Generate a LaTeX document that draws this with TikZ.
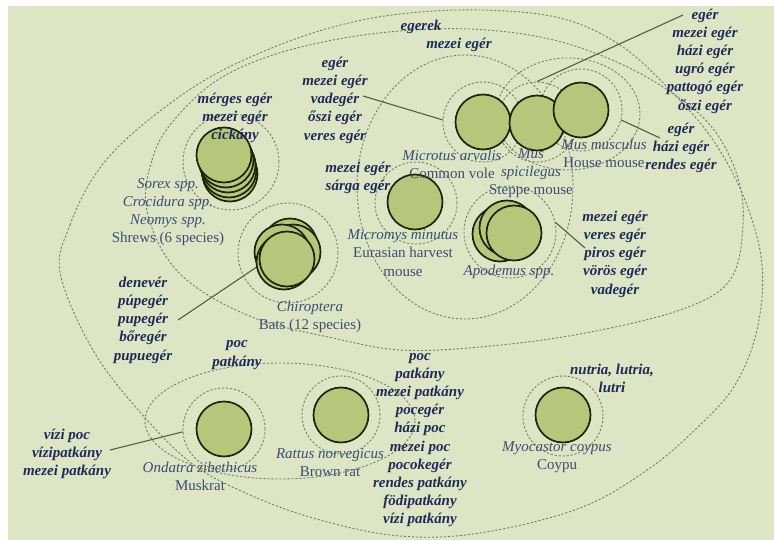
\documentclass[tikz,border=0pt]{standalone}
\usepackage{fontspec}
\setmainfont{Liberation Serif}
\definecolor{bgc}{RGB}{221,230,196}
\definecolor{leaf}{RGB}{180,199,122}
\definecolor{ringc}{RGB}{28,36,12}
\definecolor{dashc}{RGB}{118,126,108}
\definecolor{navy}{RGB}{32,42,88}
\definecolor{slate}{RGB}{62,76,116}
\definecolor{linec}{RGB}{85,92,65}
\begin{document}
\begin{tikzpicture}[x=1pt,y=-1pt,
  hu/.style={font=\fontsize{15}{18.2}\selectfont\bfseries\itshape, text=navy, align=center, inner sep=0pt},
  en/.style={font=\fontsize{15}{18.2}\selectfont, text=slate, align=center, inner sep=0pt},
  sp/.style={circle, draw=ringc, line width=1.7pt, fill=leaf, minimum size=55pt, inner sep=0pt},
  dsh/.style={draw=dashc, line width=0.9pt, dash pattern=on 2.2pt off 1.8pt},
  dc/.style={circle, dsh, inner sep=0pt},
  conn/.style={draw=linec, line width=1.1pt}]
\useasboundingbox (0,0) rectangle (774,540);
\fill[white] (0,0) rectangle (774,540);
\fill[bgc] (8,6) rectangle (774,540);

% large groupings
\draw[dsh] plot[smooth cycle, tension=0.6] coordinates {(60,272) (70,225) (95,175) (133,133) (200,83) (267,50) (333,27) (400,14) (480,10) (560,18) (620,45) (670,90) (713,140) (745,200) (762,265) (757,330) (735,385) (700,425) (650,468) (580,508) (480,533) (400,536) (320,520) (250,495) (190,462) (133,404) (90,345)};
\draw[dsh] plot[smooth cycle, tension=0.6] coordinates {(146,205) (152,160) (170,125) (213,83) (267,57) (333,40) (400,31) (470,29) (540,37) (600,55) (660,85) (710,125) (737,175) (743,225) (730,280) (680,310) (580,334) (480,347) (400,350) (333,338) (260,320) (200,290) (165,255)};
\draw[dsh] (465,187) ellipse [x radius=108, y radius=132];
\draw[dsh] (568,114) ellipse [x radius=72, y radius=56];
\draw[dsh] (280,421) ellipse [x radius=135, y radius=58];

% dashed rings
\node[dc, minimum size=96pt] (shrewd) at (231,162) {};
\node[dc, minimum size=100pt] (batd) at (288,253) {};
\node[dc, minimum size=80pt] (micd) at (483,122) {};
\node[dc, minimum size=80pt] (spicd) at (537,122) {};
\node[dc, minimum size=82pt] (muscd) at (581,110) {};
\node[dc, minimum size=82pt] (micrd) at (416,203) {};
\node[dc, minimum size=92pt] (apod) at (510,232) {};
\node[dc, minimum size=82pt] (ondd) at (224,429) {};
\node[dc, minimum size=78pt] (ratd) at (341,415) {};
\node[dc, minimum size=80pt] (myod) at (563,416) {};

% species circles
\node[sp] (sh5) at (230,174) {};
\node[sp] (sh4) at (229,170) {};
\node[sp] (sh3) at (228,165) {};
\node[sp] (sh2) at (226,160) {};
\node[sp] (sh1) at (224,155) {};
\node[sp] (bt1) at (290,246) {};
\node[sp] (bt2) at (293,252) {};
\node[sp] (bt3) at (282,252) {};
\node[sp] (bt4) at (284,262) {};
\node[sp] (bt5) at (287,259) {};
\node[sp] (mic) at (483,122) {};
\node[sp] (spic) at (537,123) {};
\node[sp] (musc) at (581,110) {};
\node[sp] (micr) at (415,202) {};
\node[sp] (ap1) at (500,234) {};
\node[sp] (ap2) at (507,228) {};
\node[sp] (ap3) at (514,233) {};
\node[sp] (ond) at (224,429) {};
\node[sp] (rat) at (341,415) {};
\node[sp] (myo) at (563,415) {};

% connectors
\coordinate (c1) at (363,96);
\coordinate (c2) at (683,15);
\coordinate (c3) at (660,138);
\coordinate (c4) at (585,248);
\coordinate (c5) at (178,320);
\coordinate (c6) at (110,450);
\draw[conn] (c1) -- (micd.177);
\draw[conn] (c2) -- (spicd.north);
\draw[conn] (c3) -- (muscd.-14);
\draw[conn] (c4) -- (apod.12);
\draw[conn] (c5) -- (bt4.191);
\draw[conn] (c6) -- (ondd.184);

% texts
\node[hu] (t1) at (421,27) {egerek};
\node[hu] (t2) at (459,45) {mezei egér};
\node[hu] (t3) at (335,100) {egér\\mezei egér\\vadegér\\őszi egér\\veres egér};
\node[hu] (t4) at (235,118) {mérges egér\\mezei egér\\cickány};
\node[en] (t5) at (168,212) {\textit{Sorex spp.}\\\textit{Crocidura spp.}\\\textit{Neomys spp.}\\Shrews (6 species)};
\node[hu] (t6) at (358,178) {mezei egér\\sárga egér};
\node[en] (t7) at (452,164) {\textit{Microtus arvalis}\\Common vole};
\node[en] (t8) at (531,173) {\textit{Mus}\\\textit{spicilegus}\\Steppe mouse};
\node[en] (t9) at (604,153) {\textit{Mus musculus}\\House mouse};
\node[hu] (t10) at (705,61) {egér\\mezei egér\\házi egér\\ugró egér\\pattogó egér\\őszi egér};
\node[hu] (t11) at (681,148) {egér\\házi egér\\rendes egér};
\node[en] (t12) at (403,253) {\textit{Micromys minutus}\\Eurasian harvest\\mouse};
\node[en] (t13) at (509,272) {\textit{Apodemus spp.}};
\node[hu] (t14) at (615,254) {mezei egér\\veres egér\\piros egér\\vörös egér\\vadegér};
\node[en] (t15) at (310,317) {\textit{Chiroptera}\\Bats (12 species)};
\node[hu] (t16) at (143,320) {denevér\\púpegér\\pupegér\\bőregér\\pupuegér};
\node[hu] (t17) at (237,355) {poc\\patkány};
\node[hu] (t18) at (67,454) {vízi poc\\vízipatkány\\mezei patkány};
\node[en] (t19) at (200,476) {\textit{Ondatra zibethicus}\\Muskrat};
\node[en] (t20) at (330,463) {\textit{Rattus norvegicus}\\Brown rat};
\node[hu] (t21) at (420,440) {poc\\patkány\\mezei patkány\\pocegér\\házi poc\\mezei poc\\pocokegér\\rendes patkány\\födipatkány\\vízi patkány};
\node[hu] (t22) at (612,378) {nutria, lutria,\\lutri};
\node[en] (t23) at (557,457) {\textit{Myocastor coypus}\\Coypu};
\end{tikzpicture}
\end{document}
